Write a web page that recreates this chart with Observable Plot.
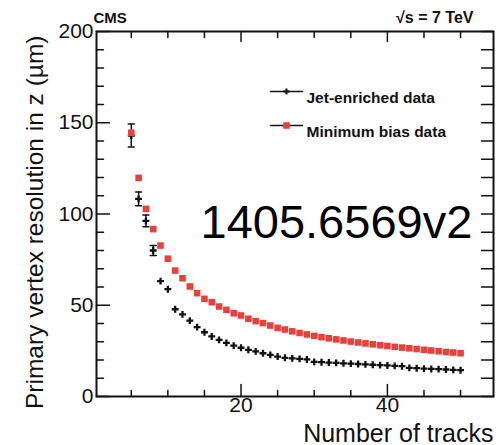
<!DOCTYPE html>
<html><head><meta charset="utf-8">
<script src="https://cdn.jsdelivr.net/npm/d3@7"></script>
<script src="https://cdn.jsdelivr.net/npm/@observablehq/plot@0.6"></script>
<style>body{margin:0;background:#fff;} svg{display:block;}</style>
</head><body><div id="chart"></div>
<script>
const tracks = [5,6,7,8,9,10,11,12,13,14,15,16,17,18,19,20,21,22,23,24,25,26,27,28,29,30,31,32,33,34,35,36,37,38,39,40,41,42,43,44,45,46,47,48,49,50];
const jetEnriched = [143,108.3,96.2,80,63.2,58.8,47.8,45.0,41.6,38.0,35.2,32.9,31.0,29.4,27.9,26.7,25.6,24.7,23.7,22.8,21.9,21.2,20.9,20.6,20.3,19.0,18.8,18.6,18.4,18.2,18.0,17.8,17.6,17.4,17.2,17.0,16.8,16.6,15.7,15.5,15.3,15.1,15.0,14.8,14.6,14.4];
const minimumBias = [144.5,119.8,102.8,91.7,82.7,75.5,69.0,64.8,60.3,56.6,53.5,51.7,49.3,47.5,45.6,44.4,42.6,41.3,40.2,38.9,37.6,36.7,35.7,34.8,34.0,33.2,32.5,31.9,31.3,30.7,30.1,29.6,29.1,28.6,28.1,27.7,27.2,26.8,26.4,26.0,25.6,25.2,24.8,24.4,24.1,23.7];
const jetErrTracks = [5,6,7,8];
const jetErr = [6.3,3.8,3.2,2.7];
const xMajorTicks = [20,40];
const xMinorTicks = [5,10,15,25,30,35,45,50];
const yMajorTicks = [0,50,100,150,200];
const yMinorTicks = [10,20,30,40,60,70,80,90,110,120,130,140,160,170,180,190];
const seriesNames = ["Jet-enriched data","Minimum bias data"];
const xLabel = "Number of tracks";
const yLabel = "Primary vertex resolution in z (µm)";
const experiment = "CMS";
const energy = "√s = 7 TeV";
const stamp = "1405.6569v2";

const ink = "#111";
const red = "#e8413c";
const font = "'Liberation Sans', Arial, Helvetica, sans-serif";

const jetData = tracks.map((t, i) => ({t, v: jetEnriched[i]}));
const mbData = tracks.map((t, i) => ({t, v: minimumBias[i]}));
const errData = jetErrTracks.map((t, i) => {
  const v = jetEnriched[tracks.indexOf(t)];
  return {t, lo: v - jetErr[i], hi: v + jetErr[i]};
});

const line = {draw(ctx, l) { ctx.moveTo(0, 0); ctx.lineTo(0, -l); }};
const tick = (data, side, len) => {
  const rot = {bottom: 0, top: 180, left: 90, right: -90}[side];
  const ch = (side === "bottom" || side === "top") ? {x: d => d} : {y: d => d};
  return Plot.vector(data, {...ch, frameAnchor: side, length: len, rotate: rot, anchor: "start", shape: line, stroke: ink, strokeWidth: 1.5});
};

const chart = Plot.plot({
  width: 504,
  height: 445,
  marginLeft: 96,
  marginRight: 11,
  marginTop: 31,
  marginBottom: 49,
  x: {domain: [0.25, 54.5], axis: null},
  y: {domain: [0, 200], axis: null},
  style: {fontFamily: font, background: "white", color: ink, overflow: "visible"},
  marks: [
    tick(xMajorTicks, "bottom", 12), tick(xMinorTicks, "bottom", 6),
    tick(xMajorTicks, "top", 10), tick(xMinorTicks, "top", 6),
    tick(yMajorTicks, "left", 13), tick(yMinorTicks, "left", 7),
    tick(yMajorTicks, "right", 12), tick(yMinorTicks, "right", 12),
    Plot.frame({stroke: ink, strokeWidth: 2}),
    Plot.text(yMajorTicks, {y: d => d, frameAnchor: "left", dx: -3, textAnchor: "end", fontSize: 21, fill: ink}),
    Plot.text(xMajorTicks, {x: d => d, frameAnchor: "bottom", dy: 15, fontSize: 21, fill: ink}),
    Plot.text([xLabel], {frameAnchor: "bottom-right", dy: 45, textAnchor: "end", lineAnchor: "bottom", fontSize: 25, fill: ink}),
    Plot.text([yLabel], {frameAnchor: "top-left", dx: -54, dy: 4, rotate: -90, textAnchor: "end", lineAnchor: "bottom", fontSize: 24.5, fill: ink}),
    Plot.text([experiment], {frameAnchor: "top-left", dx: -3, dy: -9, textAnchor: "start", lineAnchor: "bottom", fontSize: 15, fontWeight: "bold", fill: ink}),
    Plot.text([energy], {frameAnchor: "top-right", dx: -20, dy: -9, textAnchor: "end", lineAnchor: "bottom", fontSize: 16, fontWeight: "bold", fill: ink}),
    // error bars
    Plot.ruleX(errData, {x: "t", y1: "lo", y2: "hi", stroke: ink, strokeWidth: 1.5}),
    Plot.vector(errData, {x: "t", y: "hi", rotate: 90, length: 6, anchor: "middle", shape: line, stroke: ink, strokeWidth: 1.5}),
    Plot.vector(errData, {x: "t", y: "lo", rotate: 90, length: 6, anchor: "middle", shape: line, stroke: ink, strokeWidth: 1.5}),
    // data
    Plot.dot(jetData, {x: "t", y: "v", symbol: "cross", r: 2.9, fill: ink, stroke: "none"}),
    Plot.dot(mbData, {x: "t", y: "v", symbol: "square", r: 3.7, fill: red, stroke: "none"}),
    // legend
    Plot.vector([0], {frameAnchor: "top-left", dx: 174, dy: 60, rotate: 90, length: 32, anchor: "start", shape: line, stroke: ink, strokeWidth: 1.5}),
    Plot.dot([0], {frameAnchor: "top-left", dx: 190, dy: 60, symbol: "cross", r: 2.6, fill: ink, stroke: "none"}),
    Plot.text([seriesNames[0]], {frameAnchor: "top-left", dx: 210, dy: 60, textAnchor: "start", fontSize: 15.5, fontWeight: "bold", fill: ink}),
    Plot.vector([0], {frameAnchor: "top-left", dx: 174, dy: 94, rotate: 90, length: 32, anchor: "start", shape: line, stroke: ink, strokeWidth: 1.5}),
    Plot.dot([0], {frameAnchor: "top-left", dx: 190, dy: 94, symbol: "square", r: 3.7, fill: red, stroke: "none"}),
    Plot.text([seriesNames[1]], {frameAnchor: "top-left", dx: 210, dy: 94, textAnchor: "start", fontSize: 15.5, fontWeight: "bold", fill: ink}),
    // stamp
    Plot.text([stamp], {frameAnchor: "top-left", dx: 104, dy: 206, textAnchor: "start", lineAnchor: "bottom", fontSize: 47, fill: "#000"})
  ]
});
document.getElementById("chart").appendChild(chart);
</script>
</body></html>
